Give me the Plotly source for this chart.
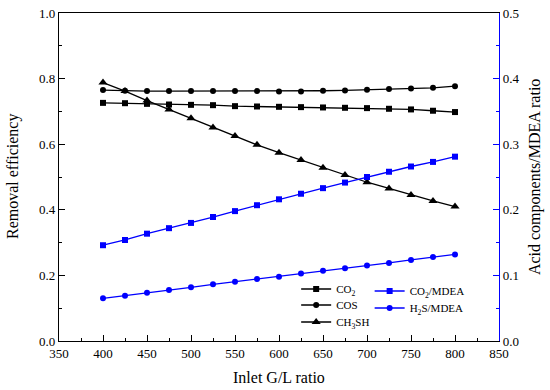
import plotly.graph_objects as go

gl_ratio = [400, 425, 450, 475, 500, 525, 550, 575, 600, 625, 650, 675, 700, 725, 750, 775, 800]
co2_eff = [0.726, 0.725, 0.723, 0.721, 0.720, 0.719, 0.716, 0.715, 0.714, 0.713, 0.712, 0.711, 0.710, 0.708, 0.706, 0.702, 0.698]
cos_eff = [0.765, 0.763, 0.762, 0.762, 0.762, 0.762, 0.762, 0.762, 0.761, 0.761, 0.763, 0.764, 0.766, 0.768, 0.770, 0.772, 0.777]
ch3sh_eff = [0.788, 0.762, 0.733, 0.706, 0.679, 0.651, 0.625, 0.598, 0.574, 0.552, 0.528, 0.506, 0.484, 0.465, 0.445, 0.427, 0.410]
co2_mdea = [0.146, 0.154, 0.1636, 0.172, 0.180, 0.189, 0.198, 0.207, 0.216, 0.2245, 0.233, 0.2415, 0.250, 0.258, 0.266, 0.273, 0.281]
h2s_mdea = [0.065, 0.069, 0.0736, 0.0777, 0.0818, 0.0864, 0.0904, 0.0945, 0.098, 0.103, 0.107, 0.111, 0.115, 0.119, 0.1235, 0.128, 0.132]

FONT = "Liberation Serif, Times New Roman, serif"
BLUE = "#0000ff"

fig = go.Figure()

def add(y, name, color, symbol, size, yaxis, legend):
    fig.add_trace(go.Scatter(
        x=gl_ratio, y=y, name=name, mode="lines+markers",
        line=dict(color=color, width=1.3),
        marker=dict(color=color, symbol=symbol, size=size),
        yaxis=yaxis, legend=legend,
    ))

add(co2_eff, "CO<sub>2</sub>", "black", "square", 6, "y", "legend")
add(cos_eff, "COS", "black", "circle", 6, "y", "legend2")
add(ch3sh_eff, "CH<sub>3</sub>SH", "black", "triangle-up", 8, "y", "legend3")
add(co2_mdea, "CO<sub>2</sub>/MDEA", BLUE, "square", 6, "y2", "legend4")
add(h2s_mdea, "H<sub>2</sub>S/MDEA", BLUE, "circle", 6, "y2", "legend5")

def leg(x, y):
    return dict(x=x, y=y, xanchor="left", yanchor="middle",
                bgcolor="rgba(0,0,0,0)", font=dict(size=11),
                tracegroupgap=0, itemwidth=30)

fig.update_layout(
    width=550, height=390,
    margin=dict(l=59, r=51, t=13, b=49),
    paper_bgcolor="white", plot_bgcolor="white",
    font=dict(family=FONT, size=13, color="black"),
    showlegend=True,
    xaxis=dict(
        range=[350, 850], dtick=50, tick0=350, automargin=False,
        showline=True, linecolor="black", linewidth=1.2, mirror=True,
        ticks="inside", ticklen=6, tickcolor="black",
        minor=dict(ticks="inside", ticklen=3, dtick=25, tickcolor="black"),
        showgrid=False, zeroline=False,
    ),
    yaxis=dict(
        range=[0, 1.0], dtick=0.2, tickformat=".1f", automargin=False,
        showline=True, linecolor="black", linewidth=1.2,
        ticks="inside", ticklen=6, tickcolor="black",
        minor=dict(ticks="inside", ticklen=3, dtick=0.1, tickcolor="black"),
        showgrid=False, zeroline=False,
    ),
    yaxis2=dict(
        range=[0, 0.5], dtick=0.1, tickformat=".1f", automargin=False,
        overlaying="y", side="right",
        showline=True, linecolor=BLUE, linewidth=1.2,
        ticks="inside", ticklen=6, tickcolor=BLUE,
        minor=dict(ticks="inside", ticklen=3, dtick=0.05, tickcolor=BLUE),
        showgrid=False, zeroline=False,
    ),
    legend=leg(0.539, 0.1585),
    legend2=leg(0.539, 0.1098),
    legend3=leg(0.539, 0.0579),
    legend4=leg(0.706, 0.1524),
    legend5=leg(0.706, 0.1006),
    annotations=[
        dict(text="Inlet G/L ratio", xref="paper", yref="paper", x=0.5, y=-0.11,
             xanchor="center", yanchor="middle", showarrow=False, font=dict(size=16)),
        dict(text="Removal efficiency", xref="paper", yref="paper", x=-0.1045, y=0.5,
             xanchor="center", yanchor="middle", textangle=-90, showarrow=False, font=dict(size=16)),
        dict(text="Acid components/MDEA ratio", xref="paper", yref="paper", x=1.082, y=0.5,
             xanchor="center", yanchor="middle", textangle=-90, showarrow=False, font=dict(size=16)),
    ],
)

fig.write_html("out.html", config={"displayModeBar": False},
               post_script="document.body.style.margin='0';")
